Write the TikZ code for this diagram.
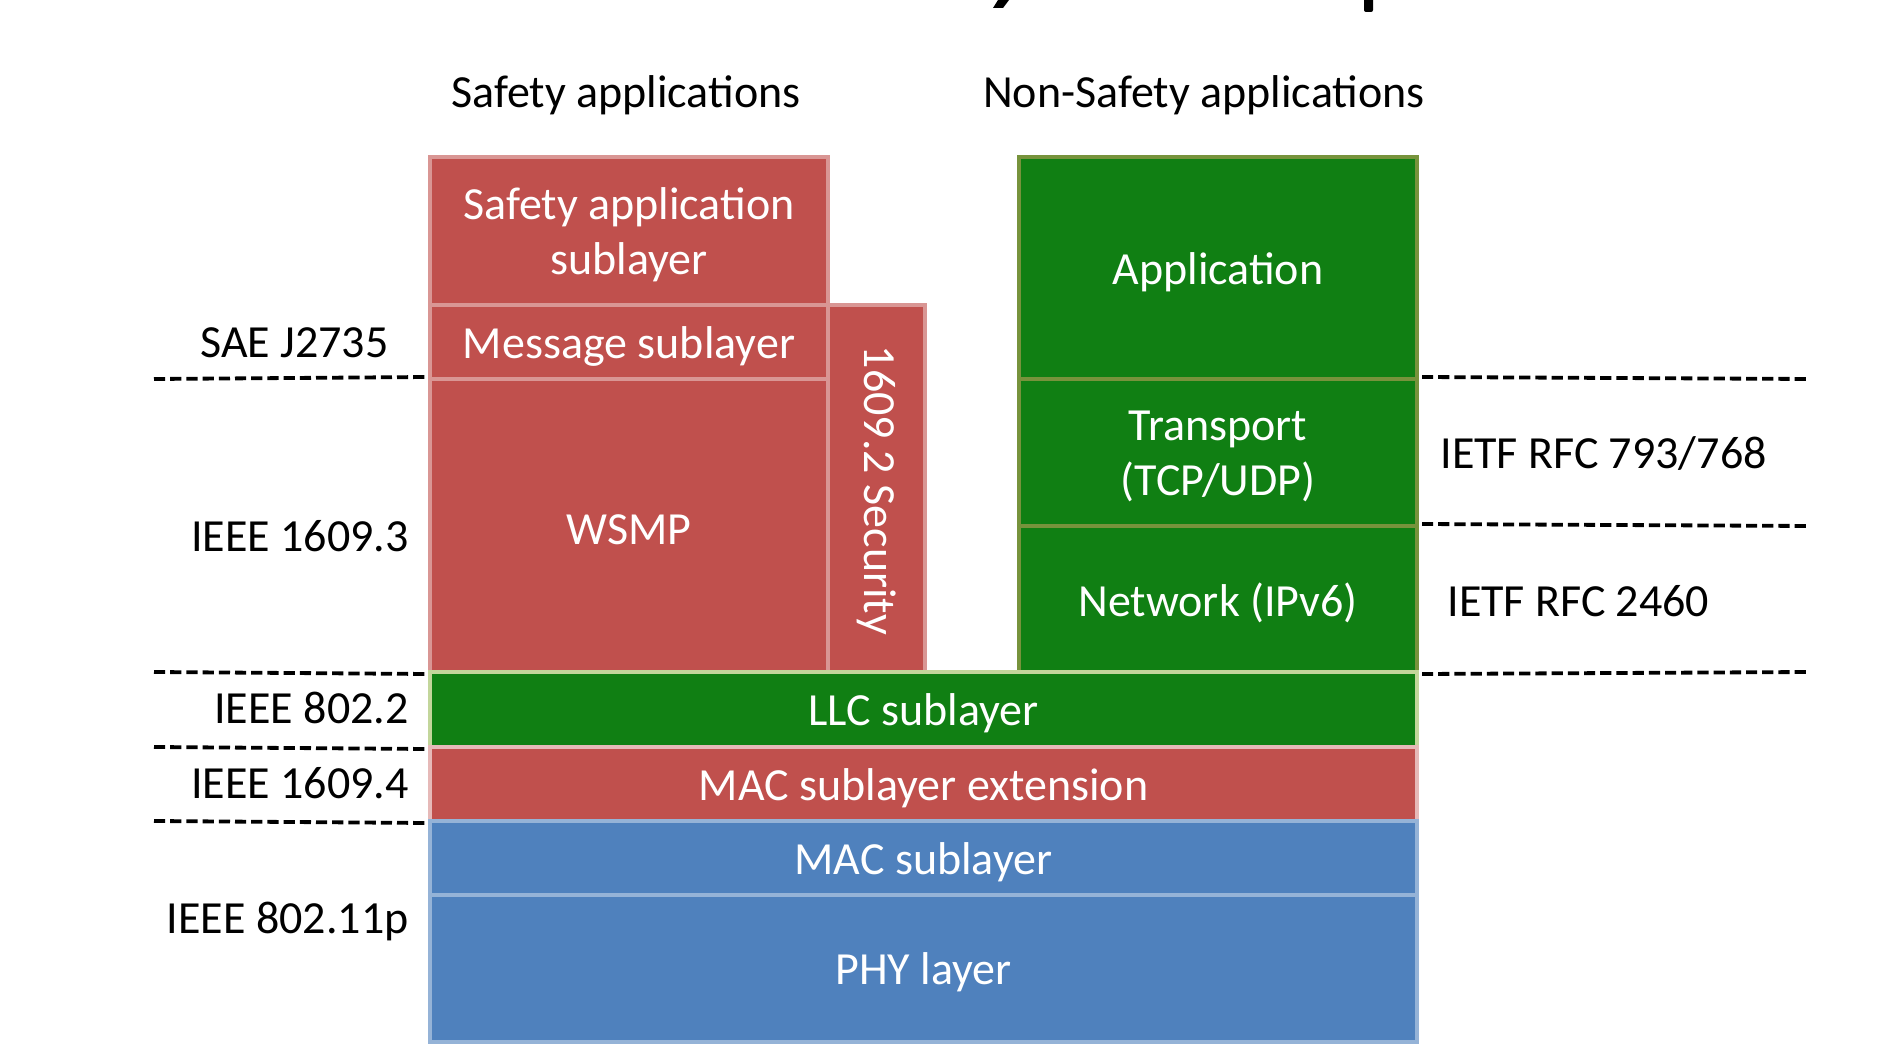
\documentclass[tikz,border=0pt]{standalone}
\usepackage{fontspec}
\setmainfont{Carlito}
\definecolor{sred}{HTML}{C0504D}
\definecolor{sredb}{HTML}{D99694}
\definecolor{sredc}{HTML}{E6B9B8}
\definecolor{sgreen}{HTML}{107F13}
\definecolor{sgreenb}{HTML}{77933C}
\definecolor{sgreenc}{HTML}{C3D69B}
\definecolor{sblue}{HTML}{4F81BD}
\definecolor{sblueb}{HTML}{95B3D7}
\begin{document}
\begin{tikzpicture}[x=0.5pt,y=-0.5pt,
  every node/.style={font=\fontsize{23}{27.6}\selectfont},
  layer/.style={rectangle, inner sep=0pt, line width=2pt},
  ltext/.style={text=white, align=center, inner sep=0pt, yshift=-2pt},
  redl/.style={layer, fill=sred, draw=sredb},
  macx/.style={layer, fill=sred, draw=sredc},
  greenl/.style={layer, fill=sgreen, draw=sgreenb},
  llcl/.style={layer, fill=sgreen, draw=sgreenc},
  bluel/.style={layer, fill=sblue, draw=sblueb},
  dline/.style={line width=1.9pt, dash pattern=on 5.6pt off 2.5pt},
  lbl/.style={text=black, inner sep=0pt}]
\useasboundingbox (0,0) rectangle (1888,1058);
% fragments of a cut-off title
\fill (998,0) -- (1009,0) -- (1003,8) -- (993,8) -- cycle;
\fill[rounded corners=1pt] (1364,-2) rectangle (1373,12);
% headings
\node[lbl, anchor=base] (hsafe) at (626,108) {Safety applications};
\node[lbl, anchor=base] (hnon) at (1204,108) {Non-Safety applications};
% safety stack
\node[redl, minimum width=199pt, minimum height=74pt] (sal) at (629,231) {};
\node[ltext] (salt) at (sal.center) {Safety application\\sublayer};
\node[redl, minimum width=199pt, minimum height=37pt] (msg) at (629,342) {};
\node[ltext] (msgt) at (msg.center) {Message sublayer};
\node[redl, minimum width=199pt, minimum height=146.5pt] (wsmp) at (629,525.5) {};
\node[ltext] (wsmpt) at (wsmp.center) {WSMP};
\node[redl, minimum width=48.5pt, minimum height=183.5pt] (sec) at (876.5,488.5) {};
\node[text=white, rotate=-90, inner sep=0pt] (sect) at ([yshift=-1pt]sec.center) {1609.2 Security};
% non-safety stack
\node[greenl, minimum width=199pt, minimum height=111pt] (app) at (1218,268) {};
\node[ltext] (appt) at (app.center) {Application};
\node[greenl, minimum width=199pt, minimum height=73.5pt] (trans) at (1218,452.5) {};
\node[ltext] (transt) at (trans.center) {Transport\\(TCP/UDP)};
\node[greenl, minimum width=199pt, minimum height=73pt] (net) at (1218,599) {};
\node[ltext] (nett) at (net.center) {Network (IPv6)};
% common layers
\node[llcl, minimum width=493.5pt, minimum height=37.5pt] (llc) at (923.5,709.5) {};
\node[ltext] (llct) at (llc.center) {LLC sublayer};
\node[macx, minimum width=493.5pt, minimum height=37pt] (mace) at (923.5,784) {};
\node[ltext] (macet) at (mace.center) {MAC sublayer extension};
\node[bluel, minimum width=493.5pt, minimum height=37pt] (mac) at (923.5,858) {};
\node[ltext] (mact) at (mac.center) {MAC sublayer};
\node[bluel, minimum width=493.5pt, minimum height=73.5pt] (phy) at (923.5,968.5) {};
\node[ltext] (phyt) at (phy.center) {PHY layer};
% dashed separators, left
\coordinate (l1) at (154,379);
\coordinate (l2) at (154,672);
\coordinate (l3) at (154,747);
\coordinate (l4) at (154,821);
\draw[dline] (l1) -- (wsmp.north west);
\draw[dline] (l2) -- (wsmp.south west);
\draw[dline] (l3) -- (llc.south west);
\draw[dline] (l4) -- (mace.south west);
% dashed separators, right
\coordinate (r1) at (1809,379);
\coordinate (r2) at (1809,526);
\coordinate (r3) at (1809,672);
\draw[dline] (trans.north east) ++(3,0) coordinate (t1) -- (r1);
\draw[dline] (net.north east) ++(3,0) coordinate (t2) -- (r2);
\draw[dline] (net.south east) ++(3,0) coordinate (t3) -- (r3);
% standard labels
\node[lbl, anchor=base east] (sae) at (389,358) {SAE J2735};
\node[lbl, anchor=base east] (i3) at (409,551) {IEEE 1609.3};
\node[lbl, anchor=base east] (i2) at (409,723) {IEEE 802.2};
\node[lbl, anchor=base east] (i4) at (409,798) {IEEE 1609.4};
\node[lbl, anchor=base east] (i11) at (409,933) {IEEE 802.11p};
\node[lbl, anchor=base west] (rfc1) at (1440,469) {IETF RFC 793/768};
\node[lbl, anchor=base west] (rfc2) at (1447,616) {IETF RFC 2460};
\end{tikzpicture}
\end{document}
